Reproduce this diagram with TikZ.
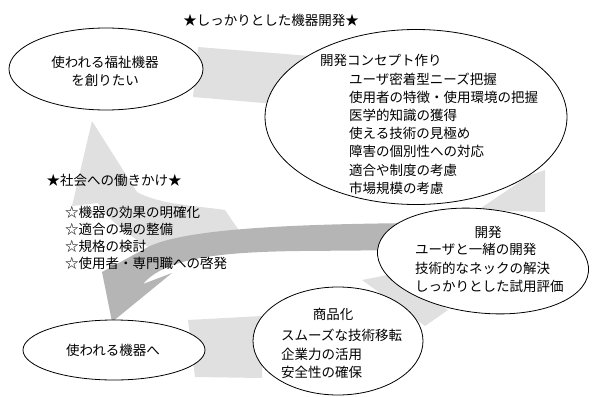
\documentclass[tikz,border=0pt]{standalone}
\usepackage{fontspec}
\setmainfont{Noto Sans CJK JP}
\usetikzlibrary{shapes.geometric}
\begin{document}
\begin{tikzpicture}[x=1pt,y=-1pt,
  bubble/.style={ellipse,draw=black,fill=white,line width=0.8pt,inner sep=0pt},
  light/.style={fill=gray!24,draw=none},
  dark/.style={fill=gray!58,draw=none},
  txt/.style={font=\fontsize{13.5}{18.2}\selectfont,inner sep=0pt,align=left},
]
\useasboundingbox (0,0) rectangle (601,396);
% light bands
\fill[light] (198,47) -- (310,56) -- (275,104) -- (193,97) -- cycle;
\fill[light] (478,210) -- (530,175) -- (545,170) -- (545,212) -- cycle;
\fill[light] (362,280) -- (392,274) -- (448,310) -- (425,326) -- cycle;
\fill[light] (188,320) -- (262,316) -- (262,378) -- (195,377) -- cycle;
% light upward arrow
\fill[light] (92,121) -- (137,192) .. controls (160,205) and (200,206) .. (225,210) -- (240,232) -- (150,248) .. controls (120,230) and (105,215) .. (98,203) -- (72,206) -- cycle;
% dark arrow
\fill[dark] (420,223) .. controls (300,224) and (190,228) .. (150,246) -- (102,272) -- (112,322) -- (172,273) -- (143,284) .. controls (165,258) and (220,252) .. (300,251) -- (420,250) -- cycle;
% ellipses
\node[bubble,minimum width=194pt,minimum height=82pt] (want) at (106,69) {};
\node[bubble,minimum width=302pt,minimum height=175pt] (concept) at (416,117) {};
\node[bubble,minimum width=212pt,minimum height=104pt,rotate=-6] (dev) at (483,261) {};
\node[bubble,minimum width=170pt,minimum height=108pt] (prod) at (338,341) {};
\node[bubble,minimum width=182pt,minimum height=60pt] (used) at (114,350) {};
% texts
\node[txt] (title) at (271,20) {★しっかりとした機器開発★};
\node[txt,align=center] (t1) at (105,71) {使われる福祉機器\\を創りたい};
\node[txt,anchor=west] (c0) at (320,60) {開発コンセプト作り};
\node[txt,anchor=west] (c1) at (349,133.5) {ユーザ密着型ニーズ把握\\使用者の特徴・使用環境の把握\\医学的知識の獲得\\使える技術の見極め\\障害の個別性への対応\\適合や制度の考慮\\市場規模の考慮};
\node[txt] (s0) at (114,180) {★社会への働きかけ★};
\node[txt,anchor=west,font=\fontsize{13.5}{17.2}\selectfont] (s1) at (65,238) {☆機器の効果の明確化\\☆適合の場の整備\\☆規格の検討\\☆使用者・専門職への啓発};
\node[txt] (d0) at (488,232) {開発};
\node[txt,anchor=west] (d1) at (415,268) {ユーザと一緒の開発\\技術的なネックの解決\\しっかりとした試用評価};
\node[txt] (p0) at (333,314) {商品化};
\node[txt,anchor=west] (p1) at (281,354) {スムーズな技術移転\\企業力の活用\\安全性の確保};
\node[txt] (u1) at (113,350) {使われる機器へ};
\end{tikzpicture}
\end{document}
